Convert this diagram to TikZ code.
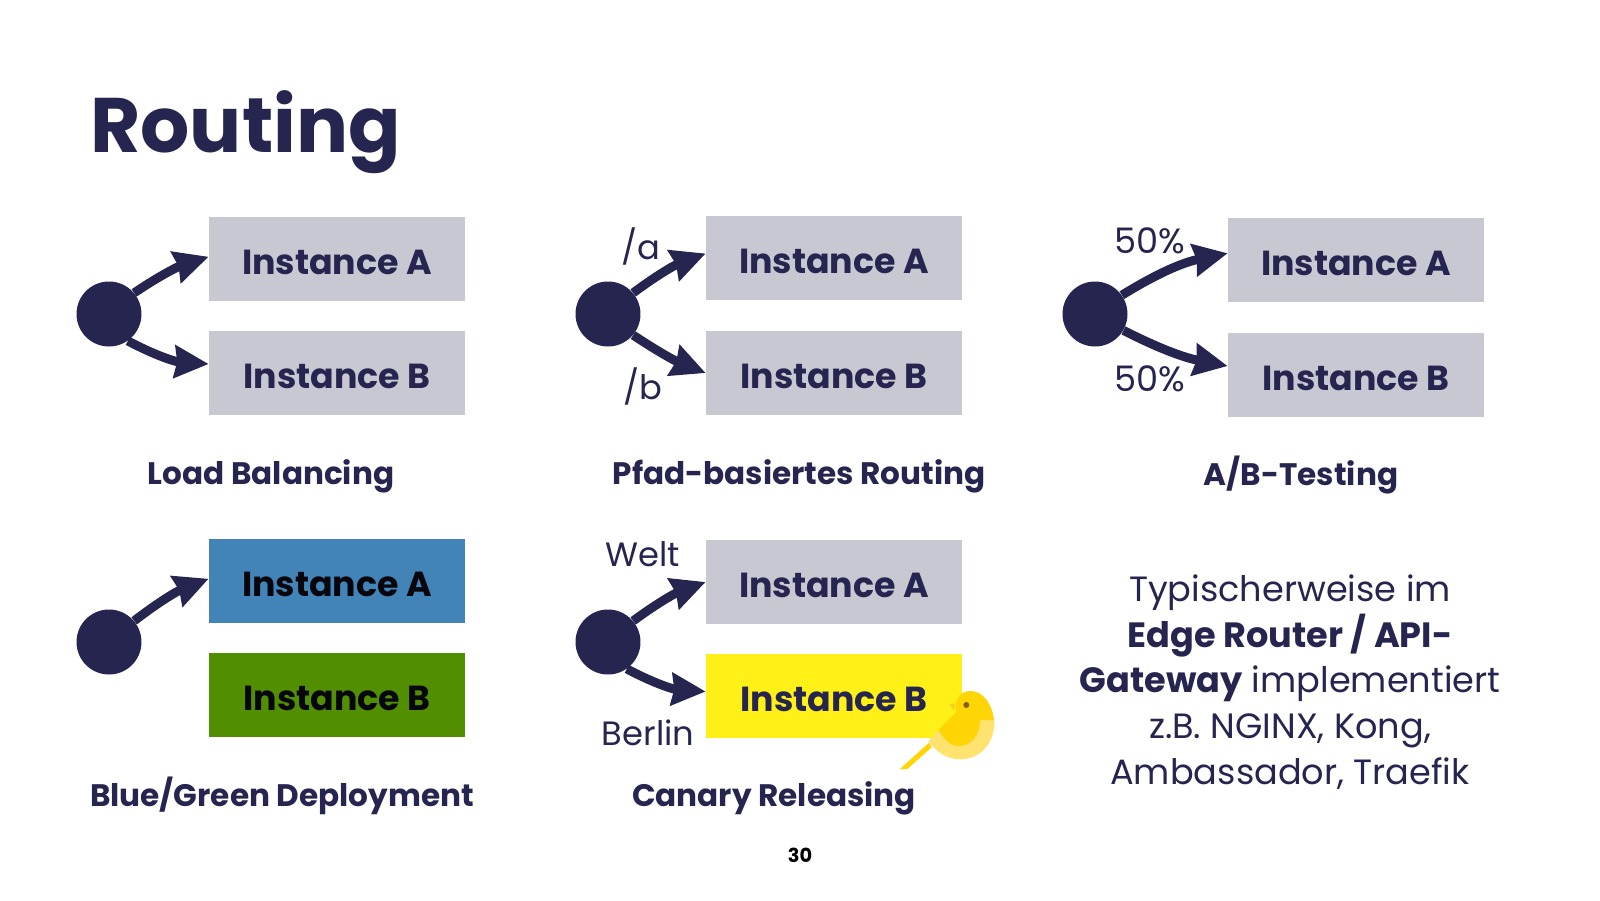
\documentclass[tikz,border=0pt]{standalone}
\usepackage{fontspec}
\setmainfont{Poppins}
\usetikzlibrary{arrows.meta}
\definecolor{navy}{HTML}{252550}
\definecolor{boxgrey}{HTML}{C8C8D3}
\definecolor{boxblue}{HTML}{4384B8}
\definecolor{boxgreen}{HTML}{528F00}
\definecolor{boxyellow}{HTML}{FFF017}
\definecolor{birdgold}{HTML}{FFD505}
\definecolor{birdpale}{HTML}{FFE36E}
\begin{document}
\begin{tikzpicture}[x=0.02cm, y=-0.02cm, >={Stealth[length=0.68cm, width=0.64cm, inset=0.05cm]},
  inst/.style={fill=boxgrey, text=navy, minimum width=5.12cm, minimum height=1.68cm, inner sep=0pt,
    text height=0.62cm, text depth=0pt, font=\fontsize{19.8}{23}\selectfont\bfseries},
  src/.style={circle, fill=navy, minimum size=1.3cm, inner sep=0pt},
  route/.style={->, draw=navy, line width=0.18cm},
  caption/.style={text=navy, inner sep=0pt, font=\fontsize{17.7}{22}\selectfont\bfseries},
  tag/.style={text=navy, inner sep=0pt, font=\fontsize{19.2}{22}\selectfont},
  pct/.style={text=navy, inner sep=0pt, font=\fontsize{20}{24}\selectfont}]
  \useasboundingbox (0,0) rectangle (1600,900);

  % Titel
  \node[anchor=base west, text=navy, inner sep=0pt, font=\fontsize{44}{50}\selectfont\bfseries] (title) at (90,152) {Routing};

  % Load Balancing
  \node[src] (c1) at (109,314) {};
  \node[inst] (a1) at (337,259) {Instance A};
  \node[inst] (b1) at (337,373) {Instance B};
  \draw[route] (c1.40) to[bend left=8] (a1.179);
  \draw[route] (c1.-55) to[bend right=12] (b1.176);
  \node[caption] (l1) at (271,476) {Load Balancing};

  % Pfad-basiertes Routing
  \node[src] (c2) at (608,314) {};
  \node[inst] (a2) at (834,258) {Instance A};
  \node[inst] (b2) at (834,373) {Instance B};
  \draw[route] (c2.40) to[bend left=8] (a2.178);
  \draw[route] (c2.-40) to[bend right=6] (b2.180);
  \node[tag] (pa) at (641,246) {/a};
  \node[tag] (pb) at (643,386) {/b};
  \node[caption] (l2) at (799,476) {Pfad-basiertes Routing};

  % A/B-Testing
  \node[src] (c3) at (1095,314) {};
  \node[inst] (a3) at (1356,260) {Instance A};
  \node[inst] (b3) at (1356,375) {Instance B};
  \draw[route] (c3.35) to[bend left=10] (a3.177);
  \draw[route] (c3.-30) to[bend right=8] (b3.176);
  \node[pct] (p50a) at (1150,241) {50\%};
  \node[pct] (p50b) at (1150,379) {50\%};
  \node[caption] (l3) at (1301,475) {A/B-Testing};

  % Blue/Green Deployment
  \node[src] (c4) at (109,642) {};
  \node[inst, fill=boxblue, text=black!85!navy] (a4) at (337,581) {Instance A};
  \node[inst, fill=boxgreen, text=black!85!navy] (b4) at (337,695) {Instance B};
  \draw[route] (c4.40) to[bend left=8] (a4.179);
  \node[caption] (l4) at (282,796) {Blue/Green Deployment};

  % Canary Releasing
  \node[src] (c5) at (608,642) {};
  \node[inst] (a5) at (834,582) {Instance A};
  \node[inst, fill=boxyellow] (b5) at (834,696) {Instance B};
  \draw[route] (c5.40) to[bend left=8] (a5.180);
  \draw[route] (c5.-55) to[bend right=12] (b5.178);
  \node[tag] (we) at (643,554) {Welt};
  \node[tag] (be) at (648,733) {Berlin};
  \node[caption] (l5) at (774,798) {Canary Releasing};

  % Vogel
  \begin{scope}[shift={(880,670)}, scale=1/3]
    \fill[birdgold] (147,218) -- (60,297) -- (82,297) -- (155,232) -- cycle;
    \fill[birdpale] (145,215) -- (175,180) -- (300,150) -- (343,150)
      .. controls (346,220) and (300,268) .. (240,268)
      .. controls (200,268) and (170,245) .. (145,215) -- cycle;
    \fill[birdgold] (175,180) -- (228,127)
      .. controls (222,90) and (240,63) .. (272,63)
      .. controls (310,63) and (338,105) .. (342,150) -- (300,150)
      .. controls (300,195) and (275,228) .. (235,228)
      .. controls (210,228) and (190,205) .. (175,180) -- cycle;
    \fill[birdgold!70!brown, opacity=0.5] (207,102) -- (225,100) -- (222,122) -- cycle;
    \fill[birdgold!40!black!70!brown] (259,105) circle (9);
  \end{scope}

  % Text rechts
  \node[text=navy, align=center, inner sep=0pt, font=\fontsize{20}{26}\selectfont] (note) at (1290,682)
    {Typischerweise im\\ \textbf{Edge Router / API-}\\ \textbf{Gateway} implementiert\\ z.B. NGINX, Kong,\\ Ambassador, Traefik};

  % Seitenzahl
  \node[text=black, inner sep=0pt, font=\fontsize{11}{13}\selectfont\bfseries] (page) at (800,855) {30};
\end{tikzpicture}
\end{document}
